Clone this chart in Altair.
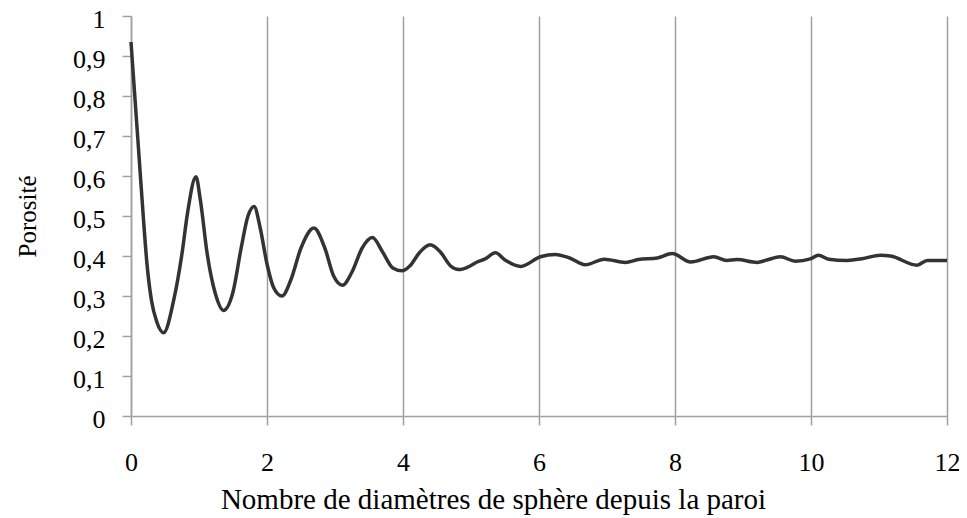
import altair as alt
import pandas as pd

# Distance from wall (sphere diameters) and porosity
distance = [0.00, 0.06, 0.12, 0.18, 0.235, 0.30, 0.38, 0.48, 0.627, 0.75, 0.83, 0.955,
            1.02, 1.12, 1.24, 1.36, 1.50, 1.62, 1.72, 1.81, 1.90, 2.00, 2.10, 2.22,
            2.35, 2.50, 2.69, 2.85, 2.98, 3.11, 3.25, 3.40, 3.55, 3.70, 3.85, 3.985,
            4.10, 4.25, 4.40, 4.55, 4.70, 4.82, 4.95, 5.09, 5.20, 5.36, 5.50, 5.73,
            6.02, 6.24, 6.45, 6.68, 6.96, 7.27, 7.46, 7.74, 7.96, 8.23, 8.57, 8.76,
            8.91, 9.21, 9.35, 9.55, 9.77, 9.99, 10.11, 10.26, 10.53, 10.75, 11.02,
            11.17, 11.56, 11.71, 12.00]
porosity = [0.935, 0.79, 0.645, 0.50, 0.38, 0.29, 0.235, 0.208, 0.289, 0.406, 0.506, 0.598,
            0.54, 0.406, 0.306, 0.264, 0.31, 0.42, 0.50, 0.524, 0.47, 0.38, 0.32, 0.300,
            0.34, 0.42, 0.470, 0.42, 0.35, 0.327, 0.36, 0.42, 0.446, 0.41, 0.37, 0.363,
            0.375, 0.41, 0.428, 0.41, 0.375, 0.366, 0.372, 0.385, 0.392, 0.408, 0.39, 0.374,
            0.398, 0.404, 0.395, 0.378, 0.392, 0.384, 0.391, 0.395, 0.406, 0.385, 0.398, 0.389,
            0.391, 0.384, 0.390, 0.398, 0.387, 0.393, 0.402, 0.392, 0.389, 0.393, 0.402,
            0.400, 0.377, 0.389, 0.389]

x_ticks = [0, 2, 4, 6, 8, 10, 12]
y_ticks = [round(i * 0.1, 1) for i in range(11)]

df = pd.DataFrame({"d": distance, "p": porosity})

FONT = "Liberation Serif"
GRAY = "#a0a0a0"

chart = alt.Chart(df).mark_line(
    color="#333333", strokeWidth=3.5, interpolate="monotone"
).encode(
    x=alt.X("d:Q", scale=alt.Scale(domain=[0, 12], nice=False),
            axis=alt.Axis(values=x_ticks, grid=True, gridColor=GRAY, gridWidth=1.5,
                          domainColor=GRAY, domainWidth=1.5, tickColor=GRAY, tickWidth=1.5,
                          tickSize=9, labelPadding=24, labelFont=FONT, labelFontSize=26,
                          labelColor="#000000", labelFlush=False,
                          title="Nombre de diamètres de sphère depuis la paroi",
                          titleFont=FONT, titleFontSize=29, titleFontWeight="normal",
                          titleColor="#000000", titleX=362, titleY=92.6,
                          titleAlign="center", titleBaseline="alphabetic")),
    y=alt.Y("p:Q", scale=alt.Scale(domain=[0, 1], nice=False),
            axis=alt.Axis(values=y_ticks, grid=False,
                          domainColor=GRAY, domainWidth=1.5, tickColor=GRAY, tickWidth=1.5,
                          tickSize=9, labelPadding=17, labelOffset=3, labelFont=FONT,
                          labelFontSize=26, labelColor="#000000", labelFlush=False,
                          labelExpr="replace(format(datum.value, '.1~f'), '.', ',')",
                          title="Porosité", titleFont=FONT, titleFontSize=25,
                          titleFontWeight="normal", titleColor="#000000",
                          titleX=-96, titleY=200, titleAlign="center",
                          titleBaseline="alphabetic")),
).properties(
    width=816, height=400,
    autosize=alt.AutoSizeParams(type="none"),
    padding={"left": 123, "top": 8, "right": 12, "bottom": 102},
    background="white",
).configure_view(stroke=None)

chart.save("out.html", embed_options={"renderer": "svg", "actions": False})
